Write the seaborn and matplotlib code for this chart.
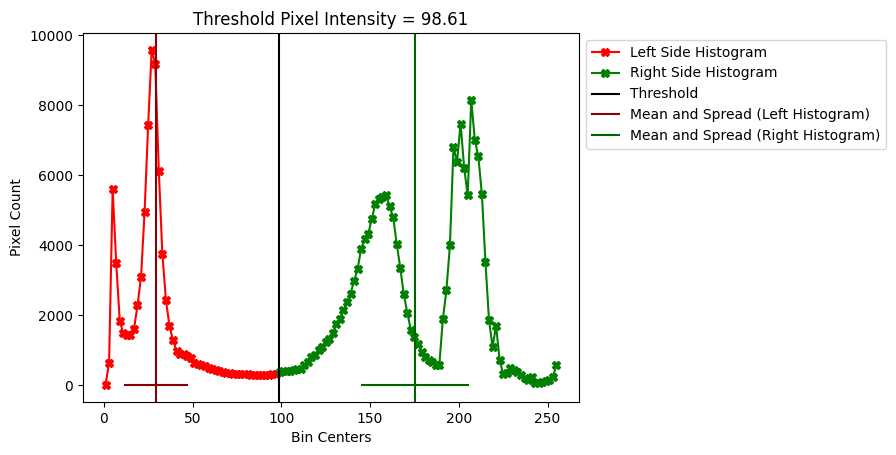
import matplotlib
matplotlib.use("Agg")
import matplotlib.pyplot as plt
import seaborn as sns

THRESHOLD = 98.61

# bin centres (width 2) split at the threshold
left_centers = [1, 3, 5, 7, 9, 11, 13, 15, 17, 19, 21, 23, 25, 27, 29, 31, 33,
                35, 37, 39, 41, 43, 45, 47, 49, 51, 53, 55, 57, 59, 61, 63, 65,
                67, 69, 71, 73, 75, 77, 79, 81, 83, 85, 87, 89, 91, 93, 95, 97]
left_counts = [15, 640, 5610, 3500, 1850, 1480, 1430, 1450, 1600, 2280, 3100,
               4960, 7440, 9590, 9190, 6130, 3760, 2440, 1690, 1290, 980, 900,
               880, 840, 790, 640, 620, 590, 560, 500, 470, 430, 410, 380, 360,
               345, 335, 325, 320, 315, 310, 305, 300, 300, 300, 305, 305, 310,
               315]

right_centers = [99, 101, 103, 105, 107, 109, 111, 113, 115, 117, 119, 121, 123,
                 125, 127, 129, 131, 133, 135, 137, 139, 141, 143, 145, 147, 149,
                 151, 153, 155, 157, 159, 161, 163, 165, 167, 169, 171, 173, 175,
                 177, 179, 181, 183, 185, 187, 189, 191, 193, 195, 197, 199, 201,
                 203, 205, 207, 209, 211, 213, 215, 217, 219, 221, 223, 225, 227,
                 229, 231, 233, 235, 237, 239, 241, 243, 245, 247, 249, 251, 253,
                 255]
right_counts = [390, 410, 410, 415, 430, 450, 476, 590, 667, 810, 870, 1000, 1100,
                1240, 1330, 1480, 1760, 1900, 2140, 2380, 2620, 2980, 3330, 3900,
                4190, 4330, 4760, 5190, 5330, 5380, 5430, 5110, 4810, 4050, 3360,
                2600, 2070, 1570, 1380, 1190, 950, 810, 730, 650, 570, 570, 1880,
                2710, 4000, 6810, 6380, 7480, 6220, 5430, 8160, 7020, 6540, 5460,
                3520, 1860, 1100, 1700, 710, 330, 340, 500, 430, 370, 290, 210,
                150, 230, 60, 70, 100, 120, 160, 240, 580]

left_mean, left_spread = 29.3, 18.0
right_mean, right_spread = 175.2, 30.4

fig = plt.figure(figsize=(8.96, 4.55), dpi=100)
ax = fig.add_axes([83 / 896, 53 / 455, 496 / 896, 369 / 455])

sns.lineplot(x=left_centers, y=left_counts, color="red", marker="X",
             markeredgecolor="red", markeredgewidth=1,
             label="Left Side Histogram", ax=ax)
sns.lineplot(x=right_centers, y=right_counts, color="green", marker="X",
             markeredgecolor="green", markeredgewidth=1,
             label="Right Side Histogram", ax=ax)

ax.axvline(THRESHOLD, color="black", linewidth=1.5, label="Threshold")
ax.axvline(left_mean, color="darkred", linewidth=1.5,
           label="Mean and Spread (Left Histogram)")
ax.hlines(0, left_mean - left_spread, left_mean + left_spread,
          color="darkred", linewidth=1.5)
ax.axvline(right_mean, color="darkgreen", linewidth=1.5,
           label="Mean and Spread (Right Histogram)")
ax.hlines(0, right_mean - right_spread, right_mean + right_spread,
          color="darkgreen", linewidth=1.5)

ax.set_title(f"Threshold Pixel Intensity = {THRESHOLD:.2f}")
ax.set_xlabel("Bin Centers")
ax.set_ylabel("Pixel Count")
ax.set_yticks([0, 2000, 4000, 6000, 8000, 10000])
ax.legend(loc="upper left", bbox_to_anchor=(1, 1))

fig.savefig("out.png", dpi=100)
plt.close(fig)
